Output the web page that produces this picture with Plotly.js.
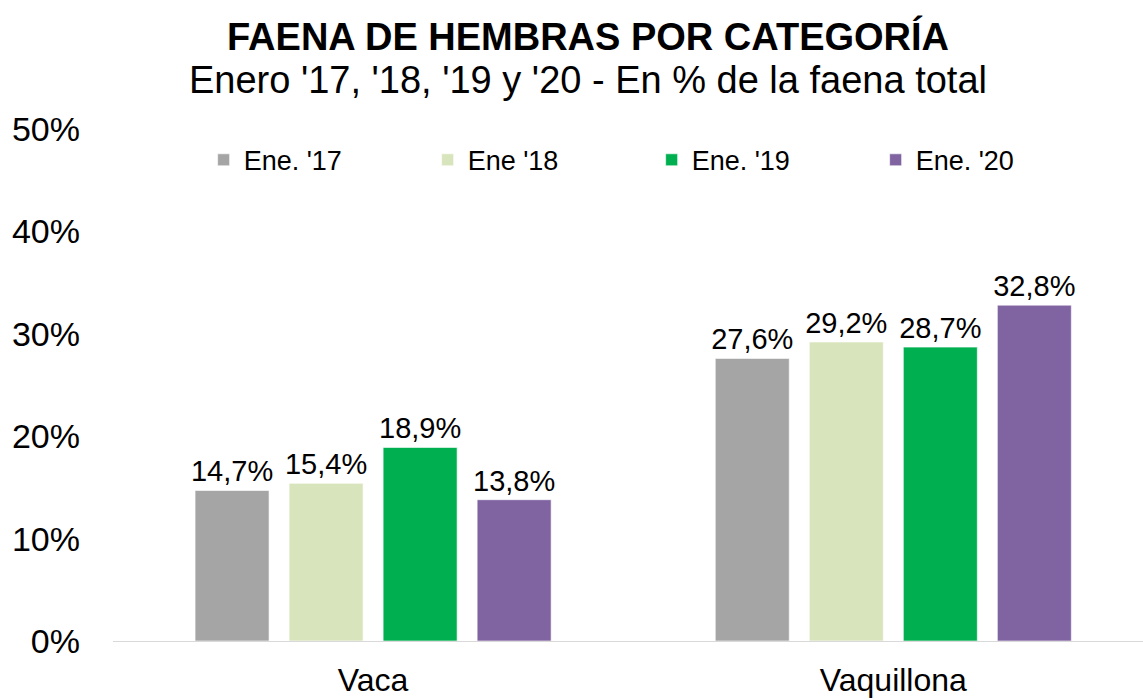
<!DOCTYPE html>
<html>
<head>
<meta charset="utf-8">
<script src="https://cdn.plot.ly/plotly-3.0.1.min.js"></script>
<style>html,body{margin:0;padding:0;background:#fff}#chart{width:1143px;height:700px}</style>
</head>
<body>
<div id="chart"></div>
<script>
const categories = ['Vaca', 'Vaquillona'];
const seriesNames = ["Ene. '17", "Ene '18", "Ene. '19", "Ene. '20"];
const ene17 = [14.7, 27.6];
const ene18 = [15.4, 29.2];
const ene19 = [18.9, 28.7];
const ene20 = [13.8, 32.8];
const yTickVals = [0, 10, 20, 30, 40, 50];
const yTickText = ['0%', '10%', '20%', '30%', '40%', '50%'];

const colors = ['#a5a5a5', '#d8e4bc', '#00b050', '#8064a2'];
const values = [ene17, ene18, ene19, ene20];
const font = 'Liberation Sans, Arial, sans-serif';

const traces = values.map((v, i) => ({
  type: 'bar',
  name: seriesNames[i],
  x: categories,
  y: v,
  marker: {color: colors[i], line: {color: 'rgba(255,255,255,0.6)', width: 1}},
  texttemplate: '%{y:.1f}%',
  textposition: 'outside',
  constraintext: 'none',
  textfont: {family: font, size: 29, color: '#000'},
  cliponaxis: false,
  hoverinfo: 'skip'
}));

const layout = {
  width: 1143, height: 700,
  margin: {l: 113, r: 0, t: 129, b: 59},
  paper_bgcolor: '#fff', plot_bgcolor: '#fff',
  separators: ',.',
  barmode: 'group',
  bargap: 0.277,
  bargroupgap: 0.213,
  font: {family: font, color: '#000'},
  xaxis: {
    range: [-0.5, 1.48],
    showline: true, linecolor: '#d9d9d9', linewidth: 1,
    ticks: '', showgrid: false, zeroline: false,
    tickfont: {family: font, size: 32, color: '#000'},
    ticklabelstandoff: 11
  },
  yaxis: {
    range: [0, 50],
    tickvals: yTickVals, ticktext: yTickText,
    showgrid: false, zeroline: false, showline: false, ticks: '',
    tickfont: {family: font, size: 34, color: '#000'},
    ticklabelstandoff: 32
  },
  showlegend: true,
  legend: {
    orientation: 'h',
    x: 0.088, xanchor: 'left',
    y: 0.939, yanchor: 'middle',
    entrywidth: 179, entrywidthmode: 'pixels',
    itemwidth: 30,
    font: {family: font, size: 27, color: '#000'},
    bgcolor: 'rgba(0,0,0,0)'
  },
  annotations: [
    {text: '<b>FAENA DE HEMBRAS POR CATEGORÍA</b>', xref: 'paper', yref: 'paper',
     x: 0.461, y: 1.1797, xanchor: 'center', yanchor: 'middle', showarrow: false,
     font: {family: font, size: 38, color: '#000'}},
    {text: "Enero '17, '18, '19 y '20 - En % de la faena total", xref: 'paper', yref: 'paper',
     x: 0.461, y: 1.0957, xanchor: 'center', yanchor: 'middle', showarrow: false,
     font: {family: font, size: 38, color: '#000'}}
  ]
};

Plotly.newPlot('chart', traces, layout, {displayModeBar: false, staticPlot: true});
</script>
</body>
</html>
